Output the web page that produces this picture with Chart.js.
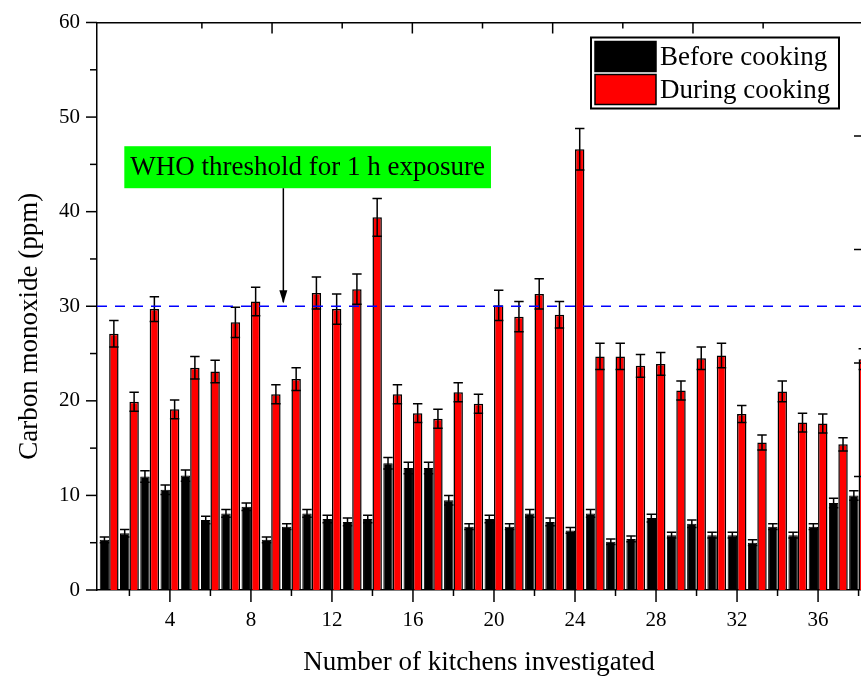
<!DOCTYPE html>
<html>
<head>
<meta charset="utf-8">
<script src="https://cdn.jsdelivr.net/npm/chart.js@4.4.1/dist/chart.umd.min.js"></script>
<style>
  html, body { margin: 0; padding: 0; background: #fff; overflow: hidden; }
  #wrap { width: 861px; height: 683px; }
</style>
</head>
<body>
<div id="wrap"><canvas id="chart" width="861" height="683"></canvas></div>
<script>
// ================= DATA =================
const kitchens = [1, 2, 3, 4, 5, 6, 7, 8, 9, 10, 11, 12, 13, 14, 15, 16, 17, 18, 19, 20,
  21, 22, 23, 24, 25, 26, 27, 28, 29, 30, 31, 32, 33, 34, 35, 36, 37, 38];

const before = [5.3, 6.0, 12.0, 10.6, 12.1, 7.4, 8.1, 8.8, 5.3, 6.7, 8.1, 7.5, 7.2, 7.5, 13.4, 12.9, 12.9, 9.5, 6.7, 7.5,
  6.7, 8.1, 7.2, 6.3, 8.1, 5.1, 5.4, 7.6, 5.8, 7.0, 5.8, 5.8, 5.0, 6.7, 5.8, 6.7, 9.2, 10.0];
const beforeErr = [0.3, 0.4, 0.6, 0.5, 0.6, 0.4, 0.4, 0.4, 0.3, 0.3, 0.4, 0.4, 0.4, 0.4, 0.6, 0.6, 0.6, 0.5, 0.3, 0.4,
  0.3, 0.4, 0.4, 0.3, 0.4, 0.3, 0.3, 0.4, 0.3, 0.4, 0.3, 0.3, 0.3, 0.3, 0.3, 0.3, 0.5, 0.5];

const during = [27.1, 19.9, 29.7, 19.1, 23.5, 23.1, 28.3, 30.5, 20.7, 22.3, 31.4, 29.7, 31.8, 39.4, 20.7, 18.7, 18.1, 20.9, 19.7, 30.1,
  28.9, 31.3, 29.1, 46.6, 24.7, 24.7, 23.7, 23.9, 21.1, 24.5, 24.8, 18.6, 15.6, 21.0, 17.7, 17.6, 15.4, 24.4];
const duringErr = [1.4, 1.0, 1.3, 1.0, 1.2, 1.2, 1.6, 1.5, 1.0, 1.2, 1.7, 1.6, 1.6, 2.0, 1.0, 1.0, 1.0, 1.0, 1.0, 1.6,
  1.6, 1.6, 1.4, 2.2, 1.4, 1.4, 1.2, 1.2, 1.0, 1.2, 1.3, 0.9, 0.8, 1.1, 1.0, 1.0, 0.7, 1.1];

const seriesNames = ["Before cooking", "During cooking"];
const xTicks = [4, 8, 12, 16, 20, 24, 28, 32, 36];
const yTicks = [0, 10, 20, 30, 40, 50, 60];
const whoLimit = 30;
const whoText = "WHO threshold for 1 h exposure";
const yTitle = "Carbon monoxide (ppm)";

// ================= STYLE =================
const SERIF = "'Liberation Serif', 'Times New Roman', serif";
const colors = ["#000000", "#ff0000"];
const annot = { x: 10.8, y: 44.7, arrowX: 9.6 };   // in data units

// ================= PLUGIN: ticks, error bars, threshold, legend, note =================
const decorPlugin = {
  id: "decor",
  afterDatasetsDraw(chart) {
    const { ctx, chartArea: a } = chart;
    const xs = chart.scales.x, ys = chart.scales.y, x2 = chart.scales.x2;
    ctx.save();
    ctx.strokeStyle = "#000";
    ctx.lineWidth = 1.5;

    // y title (sits a bit below the axis centre in the original)
    ctx.save();
    ctx.translate(30, (a.top + a.bottom) / 2 + 20);
    ctx.rotate(-Math.PI / 2);
    ctx.font = "27px " + SERIF;
    ctx.fillStyle = "#000";
    ctx.textAlign = "center"; ctx.textBaseline = "middle";
    ctx.fillText(yTitle, 0, 0);
    ctx.restore();

    // y ticks (outside, left)
    yTicks.forEach((v, i) => {
      const py = ys.getPixelForValue(v);
      ctx.beginPath(); ctx.moveTo(a.left - 11, py); ctx.lineTo(a.left, py); ctx.stroke();
      if (i < yTicks.length - 1) {
        const pm = ys.getPixelForValue((v + yTicks[i + 1]) / 2);
        ctx.beginPath(); ctx.moveTo(a.left - 7, pm); ctx.lineTo(a.left, pm); ctx.stroke();
      }
    });

    // x ticks (outside, bottom)
    xTicks.forEach(v => {
      const px = xs.getPixelForValue(v);
      ctx.beginPath(); ctx.moveTo(px, a.bottom); ctx.lineTo(px, a.bottom + 12); ctx.stroke();
      [v - 2, v + 2].forEach(m => {
        if (m === v + 2 && v !== xTicks[xTicks.length - 1]) return;
        const pm = xs.getPixelForValue(m);
        ctx.beginPath(); ctx.moveTo(pm, a.bottom); ctx.lineTo(pm, a.bottom + 6); ctx.stroke();
      });
    });

    // top mirror ticks (inside)
    for (let v = 1; v <= 9; v++) {
      const px = x2.getPixelForValue(v);
      ctx.beginPath(); ctx.moveTo(px, a.top); ctx.lineTo(px, a.top + (v % 2 ? 6 : 11)); ctx.stroke();
    }
    // right mirror ticks (inside)
    for (let k = 1; k <= 4; k++) {
      const py = a.bottom - (a.bottom - a.top) * k / 5;
      ctx.beginPath(); ctx.moveTo(a.right - 7, py); ctx.lineTo(a.right, py); ctx.stroke();
    }

    // error bars
    [[before, beforeErr], [during, duringErr]].forEach(([vals, errs], di) => {
      const meta = chart.getDatasetMeta(di);
      meta.data.forEach((bar, i) => {
        const half = bar.width / 2;
        const yHi = ys.getPixelForValue(vals[i] + errs[i]);
        const yLo = ys.getPixelForValue(vals[i] - errs[i]);
        ctx.beginPath();
        ctx.moveTo(bar.x, yHi); ctx.lineTo(bar.x, yLo);
        ctx.moveTo(bar.x - half, yHi); ctx.lineTo(bar.x + half, yHi);
        ctx.moveTo(bar.x - half, yLo); ctx.lineTo(bar.x + half, yLo);
        ctx.stroke();
      });
    });

    // WHO threshold line
    const ty = ys.getPixelForValue(whoLimit);
    ctx.save();
    ctx.strokeStyle = "#0000ff";
    ctx.setLineDash([10, 8]);
    ctx.beginPath(); ctx.moveTo(a.left, ty); ctx.lineTo(a.right, ty); ctx.stroke();
    ctx.restore();

    // annotation box + arrow
    ctx.font = "27px " + SERIF;
    const tw = ctx.measureText(whoText).width;
    const cx = xs.getPixelForValue(annot.x), cy = ys.getPixelForValue(annot.y);
    const bw = tw + 12, bh = 42;
    ctx.fillStyle = "#00ff00";
    ctx.fillRect(cx - bw / 2, cy - bh / 2, bw, bh);
    ctx.fillStyle = "#000";
    ctx.textAlign = "center"; ctx.textBaseline = "middle";
    ctx.fillText(whoText, cx, cy + 1);
    const ax = xs.getPixelForValue(annot.arrowX);
    ctx.beginPath(); ctx.moveTo(ax, cy + bh / 2); ctx.lineTo(ax, ty - 4); ctx.stroke();
    ctx.beginPath();
    ctx.moveTo(ax - 4, ty - 16); ctx.lineTo(ax + 4, ty - 16); ctx.lineTo(ax, ty - 3); ctx.closePath();
    ctx.fill();

    // legend
    const lw = 248, lh = 71;
    const lx = a.right - 22 - lw, ly = a.top + 15;
    ctx.fillStyle = "#fff";
    ctx.fillRect(lx, ly, lw, lh);
    ctx.lineWidth = 2;
    ctx.strokeRect(lx, ly, lw, lh);
    ctx.lineWidth = 1.5;
    ctx.textAlign = "left";
    seriesNames.forEach((name, i) => {
      const ry = ly + 4 + i * 33;
      ctx.fillStyle = colors[i];
      ctx.fillRect(lx + 4, ry, 61, 30);
      ctx.strokeRect(lx + 4, ry, 61, 30);
      ctx.fillStyle = "#000";
      ctx.fillText(name, lx + 69, ry + 16);
    });
    ctx.restore();
  }
};

// ================= CHART =================
new Chart(document.getElementById("chart"), {
  type: "bar",
  data: {
    datasets: [
      {
        label: seriesNames[0],
        data: kitchens.map((k, i) => ({ x: k, y: before[i] })),
        backgroundColor: colors[0],
        borderColor: "#000",
        borderWidth: 1
      },
      {
        label: seriesNames[1],
        data: kitchens.map((k, i) => ({ x: k, y: during[i] })),
        backgroundColor: colors[1],
        borderColor: "#000",
        borderWidth: 1.5
      }
    ]
  },
  options: {
    responsive: false,
    animation: false,
    devicePixelRatio: 1,
    categoryPercentage: 0.93,
    barPercentage: 1.0,
    layout: { padding: 0 },
    plugins: { legend: { display: false }, tooltip: { enabled: false } },
    scales: {
      x: {
        type: "linear",
        position: "bottom",
        min: 0.4,
        max: 38.12,
        offset: false,
        ticks: {
          stepSize: 4,
          includeBounds: false,
          autoSkip: false,
          maxRotation: 0,
          padding: 18,
          color: "#000",
          font: { family: SERIF, size: 21 },
          callback: v => (xTicks.includes(v) ? String(v) : "")
        },
        grid: { display: false, drawTicks: false },
        border: { display: true, color: "#000", width: 1.5 },
        title: {
          display: true,
          text: "Number of kitchens investigated",
          color: "#000",
          font: { family: SERIF, size: 27 },
          padding: { top: 0, bottom: 4 }
        },
        afterFit: s => { s.height = 93; }
      },
      x2: {
        type: "linear",
        position: "top",
        min: 0,
        max: 9.9,
        ticks: { display: false },
        grid: { display: false, drawTicks: false },
        border: { display: true, color: "#000", width: 1.5 },
        afterFit: s => { s.height = 22.5; }
      },
      y: {
        min: 0,
        max: 60,
        ticks: {
          stepSize: 10,
          padding: 2,
          color: "#000",
          font: { family: SERIF, size: 21 }
        },
        grid: { display: false, drawTicks: true, tickLength: 15 },
        border: { display: true, color: "#000", width: 1.5 },
        title: { display: false },
        afterFit: s => { s.width = 97; }
      }
    }
  },
  plugins: [decorPlugin]
});
</script>
</body>
</html>
